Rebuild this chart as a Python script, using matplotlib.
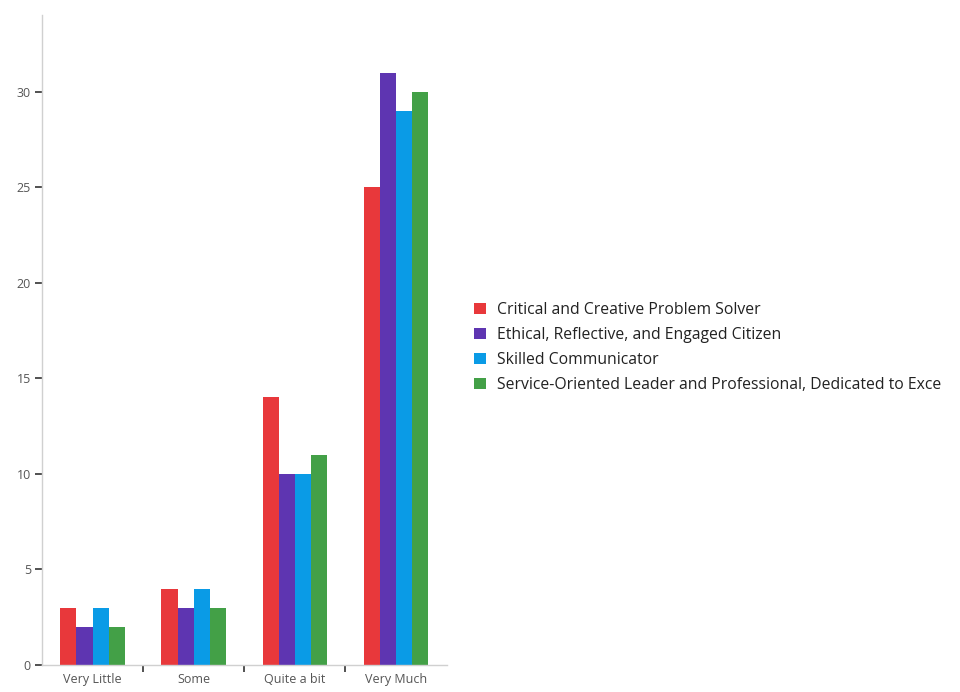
import numpy as np
import matplotlib.pyplot as plt
from matplotlib.ticker import FixedLocator

plt.rcParams['font.family'] = ['Open Sans', 'DejaVu Sans']

categories = ["Very Little", "Some", "Quite a bit", "Very Much"]
series = [
    "Critical and Creative Problem Solver",
    "Ethical, Reflective, and Engaged Citizen",
    "Skilled Communicator",
    "Service-Oriented Leader and Professional, Dedicated to Exce",
]
problem_solver = [3, 4, 14, 25]
engaged_citizen = [2, 3, 10, 31]
communicator = [3, 4, 10, 29]
service_leader = [2, 3, 11, 30]
colors = ["#e8383b", "#5e35b1", "#0a9be6", "#43a047"]

values = [problem_solver, engaged_citizen, communicator, service_leader]

fig = plt.figure(figsize=(9.6, 6.92), dpi=100)
ax = fig.add_axes([0.04375, 0.039, 0.4215, 0.939])

x = np.arange(len(categories))
w = 0.16
handles = []
for i, (vals, name, c) in enumerate(zip(values, series, colors)):
    b = ax.bar(x + (i - 1.5) * w, vals, width=w, color=c, label=name)
    handles.append(b)

ax.set_xlim(-0.5, 3.5)
ax.set_ylim(0, 34)
ax.set_yticks([0, 5, 10, 15, 20, 25, 30])
ax.set_xticks(x)
ax.set_xticklabels(categories)
ax.xaxis.set_minor_locator(FixedLocator([0.5, 1.5, 2.5]))

for s in ["top", "right"]:
    ax.spines[s].set_visible(False)
for s in ["left", "bottom"]:
    ax.spines[s].set_color("#d0d0d0")
    ax.spines[s].set_linewidth(1)

ax.tick_params(axis="y", length=5, width=1.2, color="#333333",
               labelsize=9, labelcolor="#555555", pad=3)
ax.tick_params(axis="x", which="major", length=0, labelsize=9,
               labelcolor="#555555", pad=6)
ax.tick_params(axis="x", which="minor", length=5, width=1.2,
               color="#333333", direction="out")

fig.legend(handles=handles, labels=series, loc="center left",
           bbox_to_anchor=(0.487, 0.498), frameon=False, fontsize=11.3,
           handlelength=0.75, handleheight=0.75, handletextpad=0.7,
           labelspacing=0.58, labelcolor="#222222", borderaxespad=0)

fig.savefig("out.png", dpi=100)
